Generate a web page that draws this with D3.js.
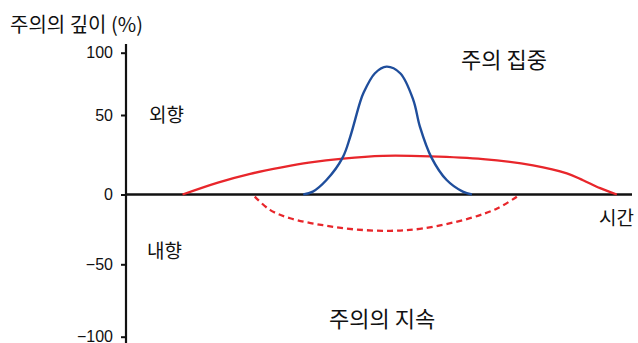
<!DOCTYPE html>
<html><head><meta charset="utf-8">
<script src="https://cdn.jsdelivr.net/npm/d3@7"></script>
<style>
body{margin:0;background:#fff;}
text{font-family:"Noto Sans CJK KR","Noto Sans",sans-serif;fill:#111;}
.tick text{font-family:"Liberation Sans",Arial,sans-serif;}
</style></head>
<body><svg id="c" width="638" height="343"></svg>
<script>
// y tick labels
const yTicks = [100, 50, 0, -50, -100];
// 주의의 깊이 axis positions (piecewise as in the original figure)
const yTickPos = [52.7, 115, 194.5, 264.3, 336.7];

// 주의 지속 (solid red, 외향)
const sustainOutT = [11, 18, 24.4, 30.9, 36, 42.8, 50.7, 60, 70.5, 80.4, 87.1, 90.3, 93.7, 97];
const sustainOutV = [0, 7.5, 13.0, 17.2, 20.0, 22.6, 24.3, 24.0, 22.3, 18.3, 13.3, 9.0, 4.0, 0];

// 주의 집중 (blue)
const focusT = [34.9, 36.8, 39.5, 42.7, 44.2, 46.1, 46.8, 49.1, 51.4, 54.1, 56.7, 58.0, 60.3, 63.3, 66.5, 68.3];
const focusV = [0, 1.8, 9.1, 23.2, 36.3, 59.6, 67.4, 83.5, 88.8, 83.5, 62, 42.7, 23.2, 9.1, 1.8, 0];

// 주의 지속 (dashed red, 내향)
const sustainInT = [25.3, 28.3, 32.3, 38.8, 45.1, 52.1, 58.6, 67.9, 73.3, 77.2];
const sustainInV = [-1.5, -11, -17, -22, -25, -26, -24.3, -17, -10, -1.6];

const svg = d3.select("#c");
const x = d3.scaleLinear().domain([0, 100]).range([127, 632]);
const y = d3.scaleLinear().domain(yTicks).range(yTickPos);

// y axis
const yAxis = d3.axisLeft(y).tickValues(yTicks).tickSize(5).tickPadding(8)
  .tickFormat(d => d < 0 ? "\u2212" + Math.abs(d) : d);
const ga = svg.append("g").attr("transform", "translate(126,0)").call(yAxis);
ga.select(".domain").remove();
ga.selectAll(".tick line").attr("stroke", "#111").attr("stroke-width", 2);
ga.selectAll(".tick text").attr("font-size", 16).attr("fill", "#111");
svg.append("line").attr("x1", 126).attr("x2", 126).attr("y1", 44).attr("y2", 343)
  .attr("stroke", "#111").attr("stroke-width", 2.2);

// x baseline
svg.append("line").attr("x1", x(0)).attr("x2", x(100)).attr("y1", y(0)).attr("y2", y(0))
  .attr("stroke", "#111").attr("stroke-width", 2.4);

const line = d3.line().x(d => x(d[0])).y(d => y(d[1])).curve(d3.curveCatmullRom.alpha(0.5));
const z = (a, b) => a.map((t, i) => [t, b[i]]);

svg.append("path").attr("d", line(z(sustainOutT, sustainOutV)))
  .attr("fill", "none").attr("stroke", "#e8262b").attr("stroke-width", 2.3);
svg.append("path").attr("d", line(z(sustainInT, sustainInV)))
  .attr("fill", "none").attr("stroke", "#e8262b").attr("stroke-width", 2.3)
  .attr("stroke-dasharray", "6,4");
svg.append("path").attr("d", line(z(focusT, focusV)))
  .attr("fill", "none").attr("stroke", "#1f4e9c").attr("stroke-width", 2.4);

// labels
svg.append("text").attr("x", 10).attr("y", 32).attr("font-size", 20).text("주의의 깊이 (%)");
svg.append("text").attr("x", 149).attr("y", 122).attr("font-size", 19).text("외향");
svg.append("text").attr("x", 147).attr("y", 258).attr("font-size", 19).text("내향");
svg.append("text").attr("x", 599).attr("y", 225).attr("font-size", 19).text("시간");
svg.append("text").attr("x", 461).attr("y", 68).attr("font-size", 22).text("주의 집중");
svg.append("text").attr("x", 329).attr("y", 327).attr("font-size", 22).text("주의의 지속");
</script></body></html>
